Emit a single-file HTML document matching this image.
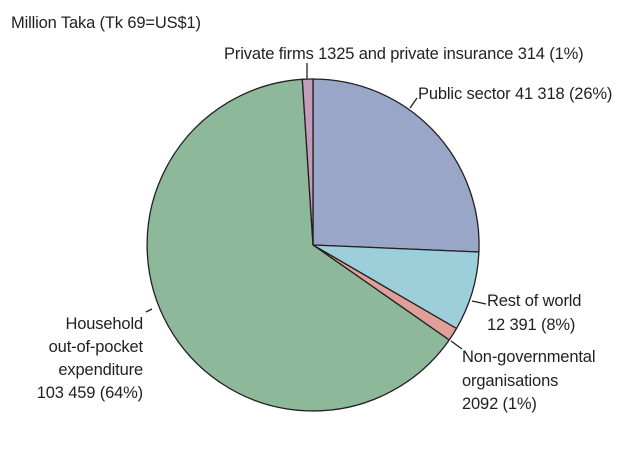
<!DOCTYPE html>
<html><head><meta charset="utf-8"><style>
body{margin:0;background:#fff;}
svg text{font-family:"Liberation Sans",sans-serif;font-size:16.5px;fill:#231f20;letter-spacing:-0.15px}
</style></head><body>
<svg width="625" height="451" viewBox="0 0 625 451" xmlns="http://www.w3.org/2000/svg">
<g stroke="#231f20" stroke-width="1.3" stroke-linejoin="round">
<path d="M313,245 L313,79 A166,166 0 0 1 478.9,252 Z" fill="#9aa6c8"/>
<path d="M313,245 L478.9,252 A166,166 0 0 1 456.5,328.5 Z" fill="#9ccfda"/>
<path d="M313,245 L456.5,328.5 A166,166 0 0 1 449.2,340 Z" fill="#e0a09a"/>
<path d="M313,245 L449.2,340 A166,166 0 1 1 302.3,79.3 Z" fill="#8db99a"/>
<path d="M313,245 L302.3,79.3 A166,166 0 0 1 313,79 Z" fill="#c39cbc"/>
<g fill="none">
<line x1="307" y1="79" x2="307" y2="63"/>
<line x1="410" y1="108" x2="417" y2="98"/>
<line x1="472" y1="301" x2="486" y2="304"/>
<line x1="451" y1="341" x2="462" y2="349"/>
<line x1="146" y1="312" x2="152" y2="309"/>
</g>
</g>
<text x="11" y="28">Million Taka (Tk 69=US$1)</text>
<text x="224" y="59">Private firms 1325 and private insurance 314 (1%)</text>
<text x="418" y="99">Public sector 41 318 (26%)</text>
<text x="487" y="306">Rest of world</text>
<text x="487" y="330">12 391 (8%)</text>
<text x="462" y="362">Non-governmental</text>
<text x="462" y="386">organisations</text>
<text x="462" y="409">2092 (1%)</text>
<g text-anchor="end">
<text x="143" y="329">Household</text>
<text x="143" y="352">out-of-pocket</text>
<text x="143" y="375">expenditure</text>
<text x="143" y="398">103 459 (64%)</text>
</g>
</svg>
</body></html>
